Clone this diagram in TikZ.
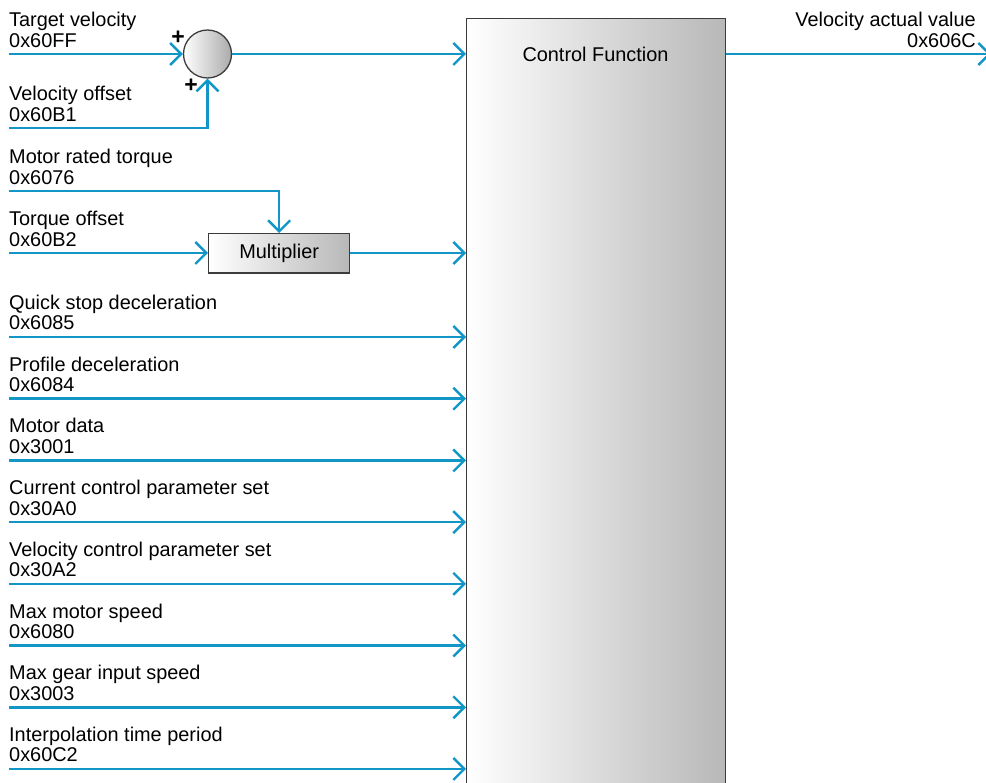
\documentclass[tikz,border=0pt]{standalone}
\usepackage{fontspec}
\setmainfont{Liberation Sans}
\usetikzlibrary{arrows.meta}
\definecolor{sigblue}{RGB}{18,150,200}
\definecolor{boxedge}{RGB}{60,60,60}
\tikzset{
  sig/.style={draw=sigblue, line width=2.6pt, line cap=butt,
    -{Straight Barb[length=11pt,width=22pt,line width=2.4pt]}},
  lbl/.style={anchor=base west, inner sep=0pt, font=\fontsize{19.9}{21}\selectfont},
  lblr/.style={anchor=base east, inner sep=0pt, font=\fontsize{19.9}{21}\selectfont},
  plus/.style={inner sep=0pt, font=\fontsize{23}{23}\selectfont\bfseries},
  gbox/.style={draw=boxedge, line width=1.3pt, left color=white, right color=black!28, inner sep=0pt},
}
\begin{document}
\begin{tikzpicture}[x=1pt,y=-1pt]
\useasboundingbox (0,0) rectangle (986,783);
% control function block
\node[gbox, anchor=north west, minimum width=259pt, minimum height=790pt] (cf) at (466,18) {};
\node[inner sep=0pt, font=\fontsize{19.9}{21}\selectfont] (cft) at (595.5,54) {Control Function};
% summing junction
\node[gbox, circle, minimum size=48pt, right color=black!33] (sum) at (207.5,54) {};
\node[plus] (p1) at (178,37.5) {+};
\node[plus] (p2) at (191,86) {+};
% multiplier
\node[gbox, anchor=north west, minimum width=141pt, minimum height=39.5pt] (mul) at (208,233) {};
\node[inner sep=0pt, font=\fontsize{19.9}{21}\selectfont] (mult) at (mul.center) {Multiplier};
% target velocity
\node[lbl] (tva) at (9,27) {Target velocity};
\node[lbl] (tvb) at (9,47.5) {0x60FF};
\coordinate (tv) at (9,54);
\draw[sig] (tv) -- (sum.west);
% velocity offset
\node[lbl] (voa) at (9,101) {Velocity offset};
\node[lbl] (vob) at (9,121.5) {0x60B1};
\coordinate (vo) at (9,128);
\draw[sig] (vo) -| (sum.south);
% sum output
\draw[sig] (sum.east) -- (sum.east -| cf.west);
% output
\node[lblr] (vaa) at (976,27) {Velocity actual value};
\node[lblr] (vab) at (976,47.5) {0x606C};
\coordinate (vout) at (991,54);
\draw[sig] (cf.east |- sum.east) -- (vout);
% motor rated torque
\node[lbl] (mta) at (9,164) {Motor rated torque};
\node[lbl] (mtb) at (9,184.5) {0x6076};
\coordinate (mt) at (9,191);
\draw[sig] (mt) -| (mul.north);
% torque offset
\node[lbl] (toa) at (9,226) {Torque offset};
\node[lbl] (tob) at (9,246.5) {0x60B2};
\coordinate (to) at (9,253);
\draw[sig] (to) -- (to -| mul.west);
\draw[sig] (to -| mul.east) -- (to -| cf.west);
% remaining inputs
\foreach \i/\a/\b in {0/Quick stop deceleration/0x6085,
  1/Profile deceleration/0x6084,
  2/Motor data/0x3001,
  3/Current control parameter set/0x30A0,
  4/Velocity control parameter set/0x30A2,
  5/Max motor speed/0x6080,
  6/Max gear input speed/0x3003,
  7/Interpolation time period/0x60C2}{
  \pgfmathsetmacro\yy{337+61.71*\i}
  \node[lbl] (ra\i) at (9,\yy-27.5) {\a};
  \node[lbl] (rb\i) at (9,\yy-7) {\b};
  \coordinate (rc\i) at (9,\yy);
  \draw[sig] (rc\i) -- (rc\i -| cf.west);
}
\end{tikzpicture}
\end{document}
